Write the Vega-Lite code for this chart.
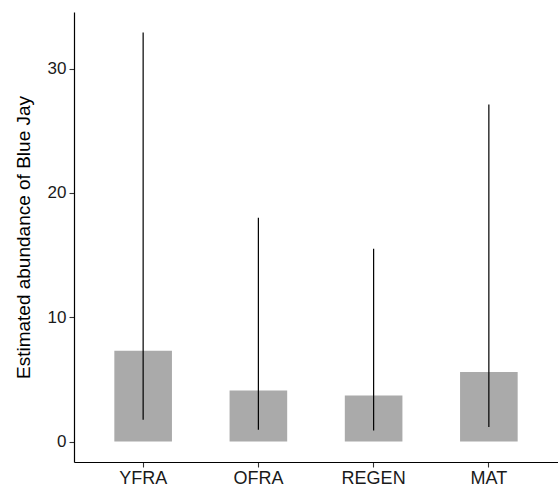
{
  "$schema": "https://vega.github.io/schema/vega-lite/v6.json",
  "width": 484,
  "height": 450,
  "autosize": {"type": "none"},
  "padding": {"left": 74, "top": 12, "right": 0, "bottom": 27},
  "background": "white",
  "config": {
    "view": {"stroke": null},
    "axis": {
      "labelFont": "Liberation Sans",
      "titleFont": "Liberation Sans",
      "labelFontSize": 17,
      "titleFontSize": 19,
      "labelColor": "#1a1a1a",
      "titleColor": "#000000",
      "titleFontWeight": "normal",
      "domainColor": "#000000",
      "domainWidth": 1.2,
      "tickColor": "#333333",
      "tickWidth": 1.1,
      "tickSize": 5,
      "grid": false
    }
  },
  "data": {
    "values": [
      {"habitat": "YFRA", "abundance": 7.3, "lower": 1.75, "upper": 32.9},
      {"habitat": "OFRA", "abundance": 4.1, "lower": 0.95, "upper": 18.0},
      {"habitat": "REGEN", "abundance": 3.7, "lower": 0.88, "upper": 15.5},
      {"habitat": "MAT", "abundance": 5.6, "lower": 1.17, "upper": 27.1}
    ]
  },
  "encoding": {
    "x": {
      "field": "habitat",
      "type": "nominal",
      "sort": ["YFRA", "OFRA", "REGEN", "MAT"],
      "scale": {"paddingInner": 0.5, "paddingOuter": 0.35},
      "axis": {"title": null, "labelAngle": 0, "labelPadding": 2, "labelFontSize": 18}
    }
  },
  "layer": [
    {
      "mark": {"type": "bar", "color": "#aaaaaa"},
      "encoding": {
        "y": {
          "field": "abundance",
          "type": "quantitative",
          "scale": {"domain": [-1.645, 34.55], "nice": false, "zero": false},
          "axis": {
            "title": "Estimated abundance of Blue Jay",
            "values": [0, 10, 20, 30],
            "labelPadding": 3,
            "titlePadding": 14
          }
        }
      }
    },
    {
      "mark": {"type": "rule", "color": "#000000", "strokeWidth": 1.2},
      "encoding": {
        "y": {"field": "lower", "type": "quantitative"},
        "y2": {"field": "upper"}
      }
    }
  ]
}
